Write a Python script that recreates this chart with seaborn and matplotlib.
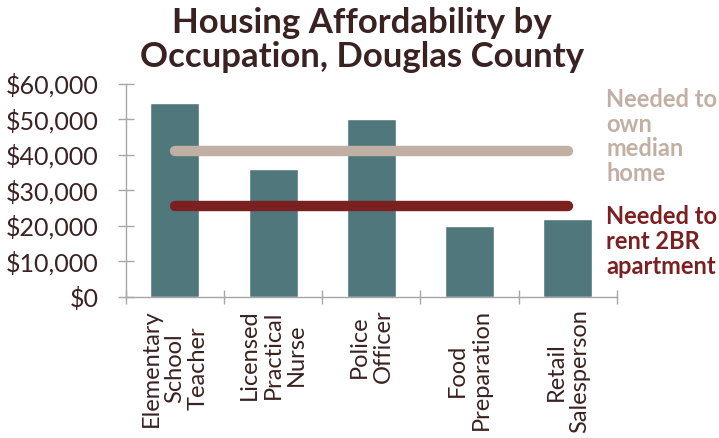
import numpy as np
import pandas as pd
import seaborn as sns
import matplotlib.pyplot as plt
from matplotlib.ticker import StrMethodFormatter, FixedLocator, MultipleLocator

# data
occupations = ['Elementary\nSchool\nTeacher', 'Licensed\nPractical\nNurse',
               'Police\nOfficer', 'Food\nPreparation', 'Retail\nSalesperson']
wages = [54500, 36000, 50000, 20000, 22000]
own_needed = 41000
rent_needed = 25700

bar_color = '#50787c'
own_color = '#c1afa3'
rent_color = '#7a2021'
text_color = '#3b2222'

sns.set_style('white')
plt.rcParams['font.family'] = ['Lato', 'DejaVu Sans']

df = pd.DataFrame({'occupation': occupations, 'wage': wages})

fig = plt.figure(figsize=(7.19, 4.38), dpi=100)
ax = fig.add_axes([0.175, 0.322, 0.683, 0.487])

sns.barplot(data=df, x='occupation', y='wage', color=bar_color, width=0.5,
            saturation=1, ax=ax)

# horizontal threshold lines across the bars
xs = [0, len(occupations) - 1]
ax.plot(xs, [own_needed] * 2, color=own_color, lw=7.5, solid_capstyle='round')
ax.plot(xs, [rent_needed] * 2, color=rent_color, lw=7.5, solid_capstyle='round')

ax.set_ylim(0, 60000)
ax.set_xlim(-0.5, len(occupations) - 0.5)
ax.yaxis.set_major_locator(MultipleLocator(10000))
ax.yaxis.set_major_formatter(StrMethodFormatter('${x:,.0f}'))
ax.set_xlabel('')
ax.set_ylabel('')

for s in ['top', 'right']:
    ax.spines[s].set_visible(False)
for s in ['left', 'bottom']:
    ax.spines[s].set_color('#a6a6a6')
    ax.spines[s].set_linewidth(1)

ax.tick_params(axis='y', direction='inout', length=11, width=1, color='#a6a6a6',
               labelsize=18, labelcolor=text_color, pad=14, left=True)
ax.tick_params(axis='x', which='major', length=0, labelsize=17,
               labelcolor=text_color, pad=9)
ax.xaxis.set_minor_locator(FixedLocator(np.arange(-0.5, len(occupations), 1)))
ax.tick_params(axis='x', which='minor', direction='inout', length=10, width=1,
               color='#a6a6a6', bottom=True)
for lab in ax.get_xticklabels():
    lab.set_rotation(90)
    lab.set_multialignment('center')
    lab.set_linespacing(1.15)

fig.text(0.503, 0.985, 'Housing Affordability by\nOccupation, Douglas County',
         ha='center', va='top', fontsize=25, fontweight='bold', color=text_color,
         linespacing=1.1)

fig.text(0.843, 0.80, 'Needed to\nown\nmedian\nhome', ha='left', va='top',
         fontsize=17, fontweight='bold', color=own_color, linespacing=1.1)
fig.text(0.843, 0.532, 'Needed to\nrent 2BR\napartment', ha='left', va='top',
         fontsize=17, fontweight='bold', color=rent_color, linespacing=1.1)

fig.savefig('out.png', dpi=100)
